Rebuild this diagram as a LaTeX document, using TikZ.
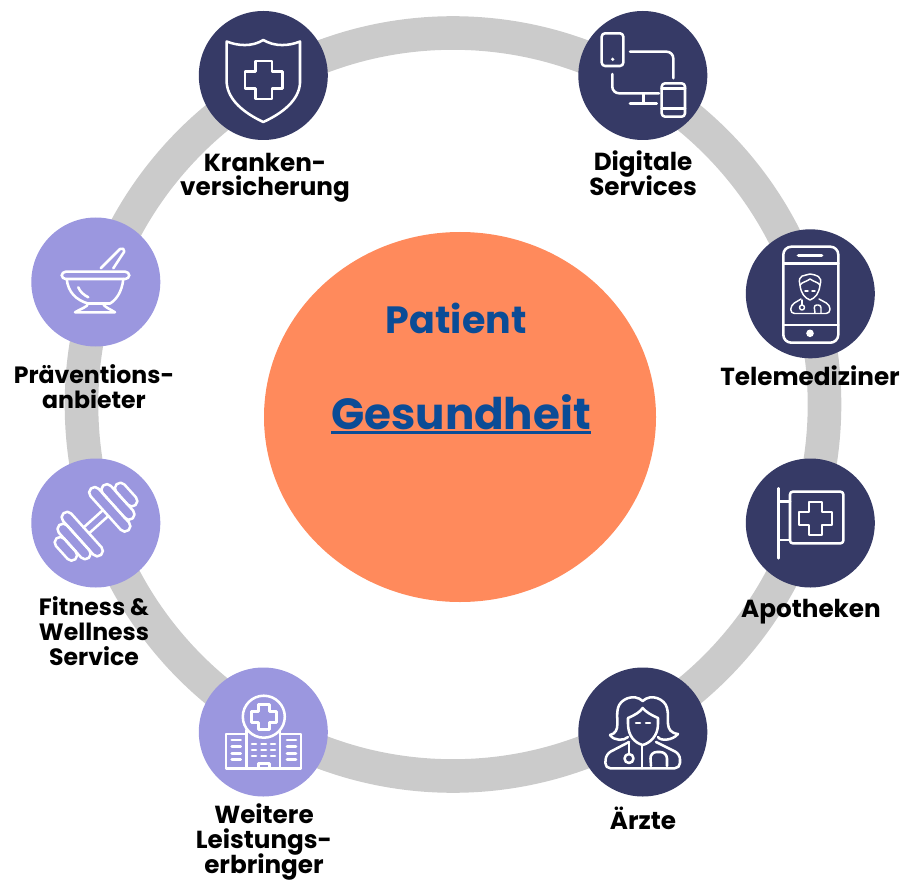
\documentclass[tikz,border=0pt]{standalone}
\usepackage{fontspec}
\setmainfont{Poppins}
\setlength{\normallineskiplimit}{-20pt}
\setlength{\lineskiplimit}{-20pt}
\definecolor{ringgray}{HTML}{CBCBCB}
\definecolor{darkdisc}{HTML}{363A66}
\definecolor{lightdisc}{HTML}{9B97DF}
\definecolor{hubfill}{HTML}{FF8A5C}
\definecolor{hubtext}{HTML}{0B4C96}
\tikzset{
    disc/.style={circle,minimum size=96.75pt,inner sep=0pt,fill=#1},
    capt/.style={align=center,anchor=base,inner sep=0pt,font=\fontsize{18.5}{18.4}\selectfont\bfseries},
    captnarrow/.style={capt,font=\fontsize{17.7}{18.4}\selectfont\bfseries},
    hublabel/.style={anchor=base,text=hubtext,inner sep=0pt},
    icon/.style={draw=white,line width=1.9pt,line join=round,line cap=round},
    thinicon/.style={draw=white,line width=1.1pt,line join=round,line cap=round}
}
\newcommand{\plusmark}[5][icon]{%
    \draw[#1] (#2-#5,#3-#4) -- (#2+#5,#3-#4) -- (#2+#5,#3-#5) -- (#2+#4,#3-#5) -- (#2+#4,#3+#5)
        -- (#2+#5,#3+#5) -- (#2+#5,#3+#4) -- (#2-#5,#3+#4) -- (#2-#5,#3+#5) -- (#2-#4,#3+#5)
        -- (#2-#4,#3-#5) -- (#2-#5,#3-#5) -- cycle;}
\newcommand{\hubline}[1]{\vtop{\hbox{#1}\kern 1.6pt\hrule height 1.9pt}}
\begin{document}
\begin{tikzpicture}[x=0.75pt,y=-0.75pt]
    \useasboundingbox (0,0) rectangle (905,880);
    \draw[ringgray, line width=25.2pt] (453,404.5) circle (371.5);
    \fill[hubfill] (460,417) ellipse (196 and 185);
    \node[hublabel,font=\fontsize{28.5}{30}\selectfont\bfseries] (patient) at (456.2,333.5) {Patient};
    \node[hublabel,font=\fontsize{32.7}{34}\selectfont\bfseries] (gesundheit) at (461,429) {\hubline{Gesundheit}};
    % discs
    \node[disc=darkdisc] (kasse) at (263.3,75.5) {};
    \node[disc=darkdisc] (digital) at (642.8,75.5) {};
    \node[disc=darkdisc] (tele) at (810.3,293.8) {};
    \node[disc=darkdisc] (apo) at (810.3,523) {};
    \node[disc=darkdisc] (arzt) at (642.8,732) {};
    \node[disc=lightdisc] (klinik) at (263.3,732) {};
    \node[disc=lightdisc] (fitness) at (95.8,523) {};
    \node[disc=lightdisc] (praev) at (95.8,282) {};
    % captions
    \node[capt] (kassetext) at (265,196) {Kranken-\\versicherung};
    \node[capt] (digitaltext) at (643,195.5) {Digitale\\Services};
    \node[capt] (teletext) at (810,385) {Telemediziner};
    \node[capt] (apotext) at (811,617.5) {Apotheken};
    \node[capt] (arzttext) at (643,829.5) {Ärzte};
    \node[capt] (kliniktext) at (264,873) {Weitere\\Leistungs-\\erbringer};
    \node[captnarrow] (fitnesstext) at (94,665) {Fitness \&\\Wellness\\Service};
    \node[captnarrow] (praevtext) at (94,408) {Präventions-\\anbieter};
    % shield
    \draw[icon] (226.7,41.5) .. controls (238,46) and (252,47) .. (263.3,40) .. controls (275,47) and (289,46) .. (300,41.5)
        -- (300,83) .. controls (299,100) and (283,113) .. (263.3,122) .. controls (244,113) and (228,100) .. (226.7,83) -- cycle;
    \plusmark{263.8}{80}{18.8}{8.3}
    % devices
    \draw[icon,rounded corners=2.5pt] (601.7,33.3) rectangle (623.3,66);
    \fill[white] (612.7,59.3) circle (1.8);
    \draw[icon,rounded corners=5pt] (630,51.7) -- (673.3,51.7) -- (673.3,78.3);
    \draw[icon,rounded corners=5pt] (612.3,74) -- (612.3,93.3) -- (659,93.3);
    \draw[icon] (643.3,94) -- (643.3,103.3);
    \draw[icon] (630,103.3) -- (656.7,103.3);
    \draw[icon,rounded corners=2.5pt] (661.7,83.3) rectangle (685,116.7);
    \draw[icon] (661.7,88.5) -- (685,88.5);
    \draw[icon] (661.7,108.5) -- (685,108.5);
    % phone with doctor
    \draw[icon,rounded corners=6pt] (783.3,246.7) rectangle (838.3,342.7);
    \draw[icon] (783.3,263.3) -- (838.3,263.3);
    \draw[icon] (783.3,325) -- (838.3,325);
    \draw[icon,line width=2.4pt] (798.3,255.7) -- (821.7,255.7);
    \fill[white] (810,333.3) circle (3.8);
    \draw[thinicon] (800,285) .. controls (797,274) and (805,276) .. (810,274) .. controls (816,275) and (823,276) .. (820,285);
    \draw[thinicon] (800,285) .. controls (802,282) and (806,282) .. (810,279) .. controls (814,282) and (818,282) .. (820,285);
    \draw[thinicon] (800,285) .. controls (801,294) and (805,298) .. (810,300) .. controls (815,298) and (819,294) .. (820,285);
    \draw[thinicon] (805,291) -- (808,291) (812,291) -- (815,291);
    \draw[thinicon,rounded corners=3pt] (801,299) -- (791,305) -- (790.5,313.5) -- (830,313.5) -- (830,305) -- (819,299);
    \draw[thinicon] (802,300) -- (802,305);
    \draw[thinicon] (802,307.5) circle (2.5);
    \draw[thinicon,rounded corners=2pt] (815,313) -- (814,305) -- (821,305) -- (821,313);
    % pharmacy sign
    \draw[icon] (778.3,488.3) -- (778.3,558.3);
    \draw[icon] (778.3,501.7) -- (790,501.7);
    \draw[icon] (778.3,540) -- (790,540);
    \draw[icon,rounded corners=2pt] (790,491.7) rectangle (843.3,543.3);
    \plusmark{815.5}{518.3}{16.5}{6.5}
    % doctor
    \draw[icon] (610,735) .. controls (622,732) and (615,718) .. (618,708) .. controls (620,699) and (634,693) .. (642.7,701)
        .. controls (651,693) and (665,699) .. (667,708) .. controls (670,718) and (663,732) .. (678,734)
        .. controls (672,741) and (660,741) .. (658,737);
    \draw[icon] (610,735) .. controls (614,741) and (624,741) .. (628,737);
    \draw[icon] (628,718) .. controls (635,715) and (640,712) .. (642.7,708) .. controls (646,712) and (651,715) .. (658,718)
        -- (658,724) .. controls (658,736) and (650,743) .. (642.7,745) .. controls (635,743) and (628,736) .. (628,724) -- cycle;
    \draw[icon] (636,723) -- (640,723) (646,723) -- (650,723);
    \draw[icon,rounded corners=4pt] (629,742) -- (606,754) -- (605,768.3) -- (680,768.3) -- (680,754) -- (656,742);
    \draw[icon] (642,746) -- (642,768.3);
    \draw[icon] (629,743) -- (629,754);
    \draw[icon] (629,758.5) circle (4.5);
    \draw[icon,rounded corners=5pt] (651,766) -- (650,752) -- (667,752) -- (667,766);
    % hospital
    \draw[icon] (263.8,716.7) circle (21);
    \plusmark{264}{717}{12.3}{5.7}
    \draw[icon] (246.7,730) -- (246.7,768.3) -- (280,768.3) -- (280,730);
    \draw[icon] (246.7,734) -- (226,734) -- (226,768.3) -- (246.7,768.3);
    \draw[icon] (280,734) -- (301,734) -- (301,768.3) -- (280,768.3);
    \foreach \rowy in {740,746.7,753.3,759.3} {
        \draw[icon] (231.7,\rowy) -- (240.7,\rowy);
        \draw[icon] (287,\rowy) -- (296,\rowy);
    }
    \foreach \rowy in {744,750,756} {
        \draw[icon] (252,\rowy) -- (256,\rowy);
        \draw[icon] (261.5,\rowy) -- (266,\rowy);
        \draw[icon] (271,\rowy) -- (275,\rowy);
    }
    \draw[icon] (258.3,768) -- (258.3,763.3) -- (269.3,763.3) -- (269.3,768);
    % dumbbell
    \begin{scope}[shift={(96,521.7)},rotate=42]
        \draw[icon] (-13,-4) -- (13,-4) (-13,4) -- (13,4);
        \foreach \sgn in {-1,1} {
            \draw[icon,rounded corners=4pt] (\sgn*13,-28) rectangle (\sgn*24,28);
            \draw[icon,rounded corners=4pt] (\sgn*24,-22) rectangle (\sgn*35,22);
            \draw[icon,rounded corners=4pt] (\sgn*35,-14) rectangle (\sgn*46,14);
        }
    \end{scope}
    % mortar
    \draw[icon,rounded corners=3pt] (61.7,271.7) rectangle (129.3,279);
    \draw[icon] (66.7,279) .. controls (68,292) and (76,300) .. (88,303.5) -- (110,303.5) .. controls (116,300) and (122,292) .. (123.3,279);
    \draw[icon] (88,303.5) .. controls (88,307) and (80,309) .. (75,312.3) -- (115,312.3) .. controls (110,309) and (104,307) .. (103,303.5);
    \draw[icon] (78.3,287.3) .. controls (80,292) and (84,295) .. (88.3,297.3);
    \draw[icon] (100.7,268.3) -- (120,249) .. controls (122,247.5) and (125,249) .. (124.3,251.5) -- (113.3,268.3);
\end{tikzpicture}
\end{document}
